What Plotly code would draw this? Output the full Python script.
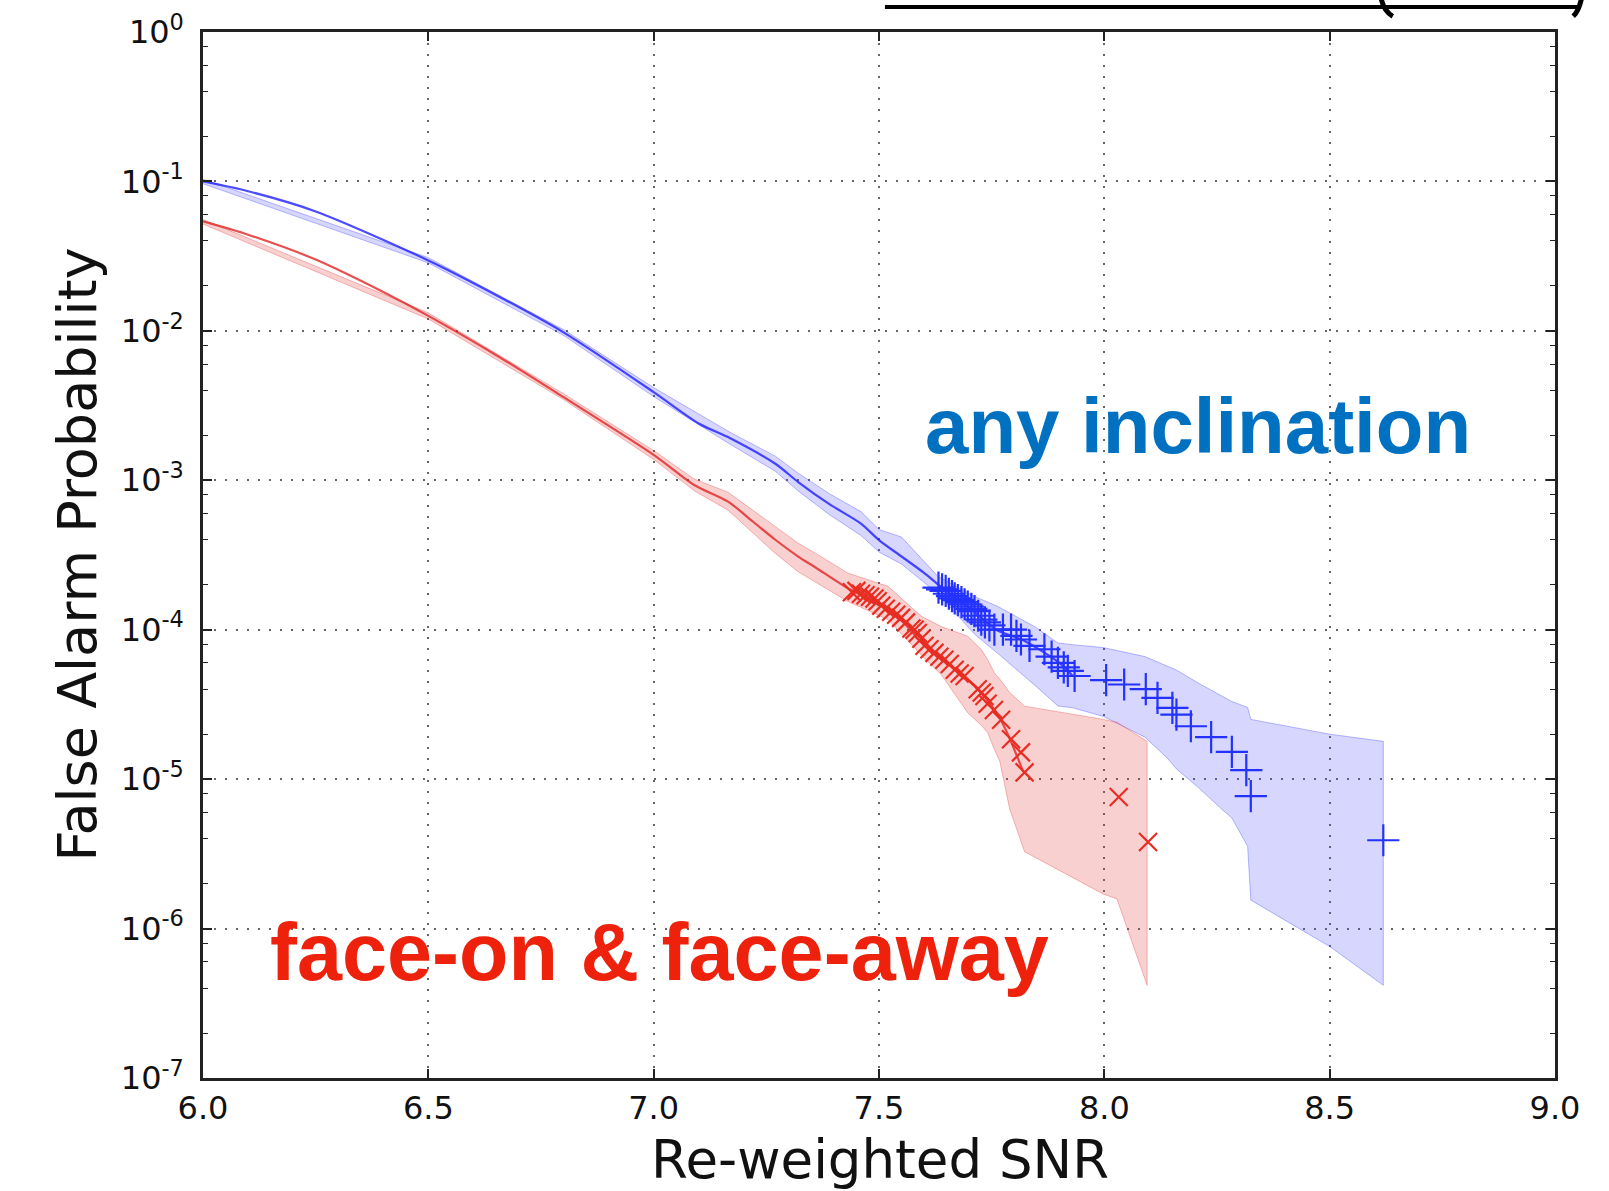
import plotly.graph_objects as go

# ---------------- data ----------------
# central FAP curves
blue_line_snr = [6.0, 6.1, 6.25, 6.5, 6.65, 6.8, 7.0, 7.1, 7.17, 7.27, 7.32, 7.39, 7.46, 7.5, 7.55, 7.6, 7.64,
                 7.7, 7.76, 7.82, 7.9, 7.93]
blue_line_fap = [1.0e-1, 8.6e-2, 6.3e-2, 2.96e-2, 1.74e-2, 9.77e-3, 3.89e-3, 2.40e-3, 1.91e-3, 1.29e-3, 9.77e-4,
                 6.92e-4, 5.13e-4, 3.98e-4, 3.09e-4, 2.40e-4, 1.91e-4, 1.41e-4, 1.0e-4, 8.5e-5, 6.0e-5, 4.9e-5]

red_line_snr = [6.0, 6.1, 6.25, 6.4, 6.5, 6.65, 6.8, 7.0, 7.09, 7.165, 7.22, 7.27, 7.32, 7.36, 7.43, 7.5, 7.55,
                7.6, 7.67, 7.72, 7.77, 7.82]
red_line_fap = [5.4e-2, 4.4e-2, 3.0e-2, 1.82e-2, 1.26e-2, 6.9e-3, 3.6e-3, 1.48e-3, 9.3e-4, 7.2e-4, 5.3e-4, 4.0e-4,
                3.1e-4, 2.6e-4, 1.9e-4, 1.48e-4, 1.15e-4, 7.9e-5, 5.4e-5, 4.0e-5, 2.5e-5, 1.12e-5]

# loudest-event markers
blue_pts_snr = [7.632, 7.640, 7.648, 7.655, 7.662, 7.668, 7.675, 7.683, 7.690, 7.697, 7.705, 7.712, 7.720, 7.727,
                7.735, 7.745, 7.756, 7.775, 7.793, 7.805, 7.815, 7.834, 7.867, 7.883, 7.897, 7.910, 7.919, 7.934,
                8.004, 8.044, 8.092, 8.118, 8.151, 8.160, 8.192, 8.237, 8.283, 8.315, 8.325, 8.619]
blue_pts_fap = [1.91e-4, 1.86e-4, 1.82e-4, 1.74e-4, 1.68e-4, 1.62e-4, 1.58e-4, 1.53e-4, 1.48e-4, 1.43e-4, 1.38e-4,
                1.33e-4, 1.24e-4, 1.17e-4, 1.12e-4, 1.07e-4, 1.0e-4, 1.0e-4, 1.0e-4, 9.1e-5, 8.6e-5, 7.8e-5,
                7.4e-5, 6.6e-5, 6.0e-5, 5.6e-5, 5.3e-5, 4.9e-5, 4.6e-5, 4.3e-5, 4.0e-5, 3.5e-5, 3.0e-5, 2.7e-5,
                2.26e-5, 1.91e-5, 1.52e-5, 1.15e-5, 7.7e-6, 3.9e-6]

red_pts_snr = [7.440, 7.450, 7.460, 7.470, 7.480, 7.490, 7.497, 7.505, 7.515, 7.527, 7.538, 7.549, 7.560, 7.572,
               7.579, 7.586, 7.594, 7.601, 7.612, 7.623, 7.634, 7.645, 7.657, 7.668, 7.679, 7.690, 7.719, 7.728,
               7.734, 7.741, 7.755, 7.771, 7.793, 7.815, 7.823, 8.032, 8.097]
red_pts_fap = [1.78e-4, 1.82e-4, 1.74e-4, 1.70e-4, 1.66e-4, 1.62e-4, 1.55e-4, 1.45e-4, 1.38e-4, 1.32e-4, 1.26e-4,
               1.20e-4, 1.12e-4, 1.02e-4, 1.0e-4, 9.5e-5, 8.7e-5, 7.8e-5, 7.4e-5, 7.0e-5, 6.6e-5, 6.3e-5, 5.9e-5,
               5.4e-5, 5.1e-5, 4.9e-5, 4.0e-5, 3.8e-5, 3.6e-5, 3.2e-5, 2.9e-5, 2.5e-5, 1.85e-5, 1.51e-5, 1.11e-5,
               7.6e-6, 3.8e-6]

# uncertainty bands
blue_band_snr = [6.0, 6.5, 6.8, 7.0, 7.17, 7.27, 7.32, 7.39, 7.46, 7.5, 7.55, 7.631, 7.712, 7.764, 7.845, 7.897,
                 7.93, 7.998, 8.09, 8.14, 8.16, 8.21, 8.26, 8.283, 8.318, 8.325, 8.5, 8.619]
blue_band_hi = [1.035e-1, 3.09e-2, 1.02e-2, 4.17e-3, 2.09e-3, 1.45e-3, 1.12e-3, 8.13e-4, 6.17e-4, 4.68e-4, 4.17e-4,
                2.27e-4, 1.67e-4, 1.43e-4, 1.05e-4, 8.15e-5, 7.94e-5, 7.59e-5, 6.61e-5, 5.70e-5, 5.37e-5, 4.37e-5,
                3.63e-5, 3.31e-5, 3.02e-5, 2.51e-5, 2.0e-5, 1.79e-5]
blue_band_lo = [9.66e-2, 2.85e-2, 9.33e-3, 3.63e-3, 1.74e-3, 1.15e-3, 8.51e-4, 5.89e-4, 4.27e-4, 3.31e-4, 2.75e-4,
                1.74e-4, 9.33e-5, 6.92e-5, 4.27e-5, 3.09e-5, 3.0e-5, 2.63e-5, 1.91e-5, 1.38e-5, 1.17e-5, 8.71e-6,
                6.31e-6, 5.5e-6, 3.55e-6, 1.55e-6, 7.59e-7, 4.17e-7]

red_band_snr = [6.0, 6.5, 6.8, 7.0, 7.09, 7.165, 7.22, 7.27, 7.32, 7.36, 7.43, 7.52, 7.594, 7.638, 7.697, 7.727,
                7.741, 7.756, 7.768, 7.79, 7.823, 7.998, 8.028, 8.095]
red_band_hi = [5.56e-2, 1.32e-2, 3.80e-3, 1.58e-3, 1.02e-3, 8.32e-4, 6.31e-4, 4.90e-4, 3.80e-4, 3.24e-4, 2.40e-4,
               1.95e-4, 1.23e-4, 1.05e-4, 9.04e-5, 7.36e-5, 6.31e-5, 5.14e-5, 4.68e-5, 3.80e-5, 3.08e-5, 2.51e-5,
               2.40e-5, 1.79e-5]
red_band_lo = [5.19e-2, 1.20e-2, 3.47e-3, 1.38e-3, 8.51e-4, 6.31e-4, 4.47e-4, 3.24e-4, 2.45e-4, 2.09e-4, 1.55e-4,
               1.17e-4, 6.76e-5, 5.01e-5, 2.78e-5, 2.29e-5, 2.05e-5, 1.58e-5, 1.32e-5, 6.31e-6, 3.27e-6, 1.70e-6,
               1.58e-6, 4.17e-7]

# axes ticks
x_tick_vals = [6.0, 6.5, 7.0, 7.5, 8.0, 8.5, 9.0]
x_tick_text = ["6.0", "6.5", "7.0", "7.5", "8.0", "8.5", "9.0"]
y_tick_vals = [1e0, 1e-1, 1e-2, 1e-3, 1e-4, 1e-5, 1e-6, 1e-7]
y_tick_text = ["10<sup>0</sup>", "10<sup>-1</sup>", "10<sup>-2</sup>", "10<sup>-3</sup>",
               "10<sup>-4</sup>", "10<sup>-5</sup>", "10<sup>-6</sup>", "10<sup>-7</sup>"]
y_minor_vals = [m * d for d in [1e-1, 1e-2, 1e-3, 1e-4, 1e-5, 1e-6, 1e-7] for m in (2, 4, 6, 8)]

x_title = "Re-weighted SNR"
y_title = "False Alarm Probability"
label_any = "any inclination"
label_face = "face-on &amp; face-away"

# ---------------- figure ----------------
BLUE = "rgb(35,50,255)"
RED = "rgb(232,45,35)"
fig = go.Figure()


def band(xs, hi, lo, fill, edge):
    fig.add_trace(go.Scatter(
        x=list(xs) + list(xs)[::-1], y=list(hi) + list(lo)[::-1],
        mode="lines", fill="toself", fillcolor=fill,
        line=dict(color=edge, width=1), hoverinfo="skip", showlegend=False))


band(blue_band_snr, blue_band_hi, blue_band_lo, "rgba(70,70,255,0.22)", "rgba(60,60,255,0.35)")
band(red_band_snr, red_band_hi, red_band_lo, "rgba(230,60,60,0.24)", "rgba(230,60,60,0.35)")

fig.add_trace(go.Scatter(x=blue_line_snr, y=blue_line_fap, mode="lines",
                         line=dict(color="rgba(30,30,255,0.8)", width=2.2, shape="spline", smoothing=0.8),
                         showlegend=False))
fig.add_trace(go.Scatter(x=red_line_snr, y=red_line_fap, mode="lines",
                         line=dict(color="rgba(225,35,35,0.8)", width=2.2, shape="spline", smoothing=0.8),
                         showlegend=False))

fig.add_trace(go.Scatter(x=blue_pts_snr, y=blue_pts_fap, mode="markers",
                         marker=dict(symbol="cross-thin", size=23, line=dict(color=BLUE, width=2.2)),
                         showlegend=False))
fig.add_trace(go.Scatter(x=red_pts_snr, y=red_pts_fap, mode="markers",
                         marker=dict(symbol="x-thin", size=18, line=dict(color=RED, width=2.2)),
                         showlegend=False))

tick_font = dict(family="DejaVu Sans", size=32, color="#111")
grid = dict(showgrid=True, gridcolor="#666", gridwidth=1.5, griddash="2px,9px")

fig.update_xaxes(range=[6.0, 9.0], tickmode="array", tickvals=x_tick_vals, ticktext=x_tick_text,
                 ticks="inside", ticklen=9, tickwidth=1.5, tickcolor="#222",
                 showline=True, linecolor="#222", linewidth=2.5, mirror="ticks",
                 tickfont=tick_font, ticklabelstandoff=0, zeroline=False, **grid)
fig.update_yaxes(type="log", range=[-7, 0], tickmode="array", tickvals=y_tick_vals, ticktext=y_tick_text,
                 ticks="inside", ticklen=9, tickwidth=1.5, tickcolor="#222",
                 minor=dict(tickmode="array", tickvals=y_minor_vals, ticks="inside", ticklen=5,
                            tickwidth=1.2, tickcolor="#222", showgrid=False),
                 showline=True, linecolor="#222", linewidth=2.5, mirror="ticks",
                 tickfont=tick_font, ticklabelstandoff=10, zeroline=False, **grid)

fig.add_annotation(text=x_title, xref="paper", yref="paper", x=0.5007, y=-0.0775,
                   xanchor="center", yanchor="middle", showarrow=False,
                   font=dict(family="DejaVu Sans", size=53, color="#111"))
fig.add_annotation(text=y_title, xref="paper", yref="paper", x=-0.0935, y=0.5,
                   xanchor="center", yanchor="middle", showarrow=False, textangle=-90,
                   font=dict(family="DejaVu Sans", size=54, color="#111"))
fig.add_annotation(text=label_any, xref="paper", yref="paper", x=0.7363, y=0.6233,
                   xanchor="center", yanchor="middle", showarrow=False,
                   font=dict(family="Liberation Sans, Arial", size=78, color="#0070C0", weight="bold"))
fig.add_annotation(text=label_face, xref="paper", yref="paper", x=0.338, y=0.1205,
                   xanchor="center", yanchor="middle", showarrow=False,
                   font=dict(family="Liberation Sans, Arial", size=81, color="#EE220C", weight="bold"))

# cropped slide decoration at the very top (underline and bracket tails)
fig.add_shape(type="line", xref="paper", yref="paper", x0=0.5044, x1=1.0192, y0=1.0239, y1=1.0239,
              line=dict(color="black", width=4))
fig.add_shape(type="path", xref="paper", yref="paper",
              path="M 0.8715,1.0315 Q 0.8735,1.020 0.8800,1.0150", line=dict(color="black", width=5))
fig.add_shape(type="path", xref="paper", yref="paper",
              path="M 1.0195,1.0315 Q 1.0175,1.020 1.0135,1.0150", line=dict(color="black", width=5))

fig.update_layout(width=1609, height=1191, margin=dict(l=203, r=54, t=32, b=113, autoexpand=False),
                  paper_bgcolor="white", plot_bgcolor="white")

fig.write_html("out.html", config={"displayModeBar": False},
               post_script="document.body.style.margin='0';")
